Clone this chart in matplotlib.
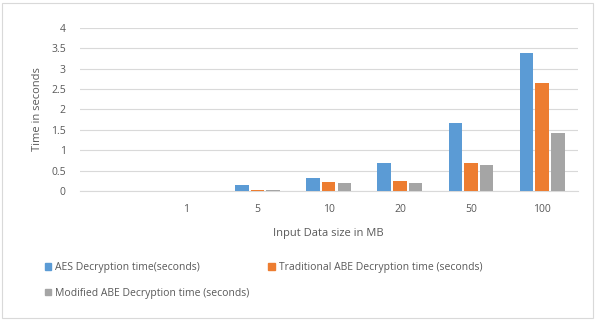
import numpy as np
import matplotlib
matplotlib.use("Agg")
import matplotlib.pyplot as plt
from matplotlib.patches import Patch, Rectangle

plt.rcParams["font.family"] = ["Open Sans", "DejaVu Sans"]

# Decryption time per input size (first slot is left empty)
sizes = ["", "1", "5", "10", "20", "50", "100"]
aes_time = [0, 0, 0.16, 0.31, 0.68, 1.66, 3.38]
trad_abe_time = [0, 0, 0.03, 0.22, 0.24, 0.68, 2.65]
mod_abe_time = [0, 0, 0.03, 0.20, 0.20, 0.65, 1.43]

series_names = [
    "AES Decryption time(seconds)",
    "Traditional ABE Decryption time (seconds)",
    "Modified ABE Decryption time (seconds)",
]
colors = ["#5B9BD5", "#ED7D31", "#A5A5A5"]
text_color = "#595959"

fig = plt.figure(figsize=(5.95, 3.2), dpi=100)
fig.add_artist(Rectangle((0.004, 0.006), 0.992, 0.985, transform=fig.transFigure,
                         fill=False, edgecolor="#D9D9D9", linewidth=0.8))

ax = fig.add_axes([0.134, 0.403, 0.837, 0.51])

x = np.arange(len(sizes))
width = 0.19
gap = 0.03
for i, (vals, name, c) in enumerate(zip([aes_time, trad_abe_time, mod_abe_time],
                                        series_names, colors)):
    ax.bar(x + (i - 1) * (width + gap), vals, width, color=c, label=name, zorder=3)

ax.set_xlim(-0.5, len(sizes) - 0.5)
ax.set_ylim(0, 4)
ax.set_yticks(np.arange(0, 4.01, 0.5))
ax.set_yticklabels(["0", "0.5", "1", "1.5", "2", "2.5", "3", "3.5", "4"])
ax.set_xticks(x)
ax.set_xticklabels(sizes)
ax.grid(axis="y", color="#D9D9D9", linewidth=0.8, zorder=0)
for side in ["top", "right", "left"]:
    ax.spines[side].set_visible(False)
ax.spines["bottom"].set_color("#D9D9D9")
ax.tick_params(axis="both", length=0, labelsize=7.5, colors=text_color)
ax.tick_params(axis="x", pad=9)
ax.tick_params(axis="y", pad=10)

ax.set_ylabel("Time in seconds", fontsize=8, color=text_color, labelpad=6)
ax.set_xlabel("Input Data size in MB", fontsize=8, color=text_color, labelpad=10)

handles = [Patch(color=c) for c in colors]
order = [0, 2, 1]
fig.legend([handles[i] for i in order], [series_names[i] for i in order],
           loc="upper left", bbox_to_anchor=(0.06, 0.21), ncol=2,
           frameon=False, fontsize=7.5, labelcolor=text_color,
           handlelength=0.6, handleheight=0.6, handletextpad=0.4,
           columnspacing=1.8, labelspacing=1.4)

fig.savefig("out.png", dpi=100, facecolor="white")
